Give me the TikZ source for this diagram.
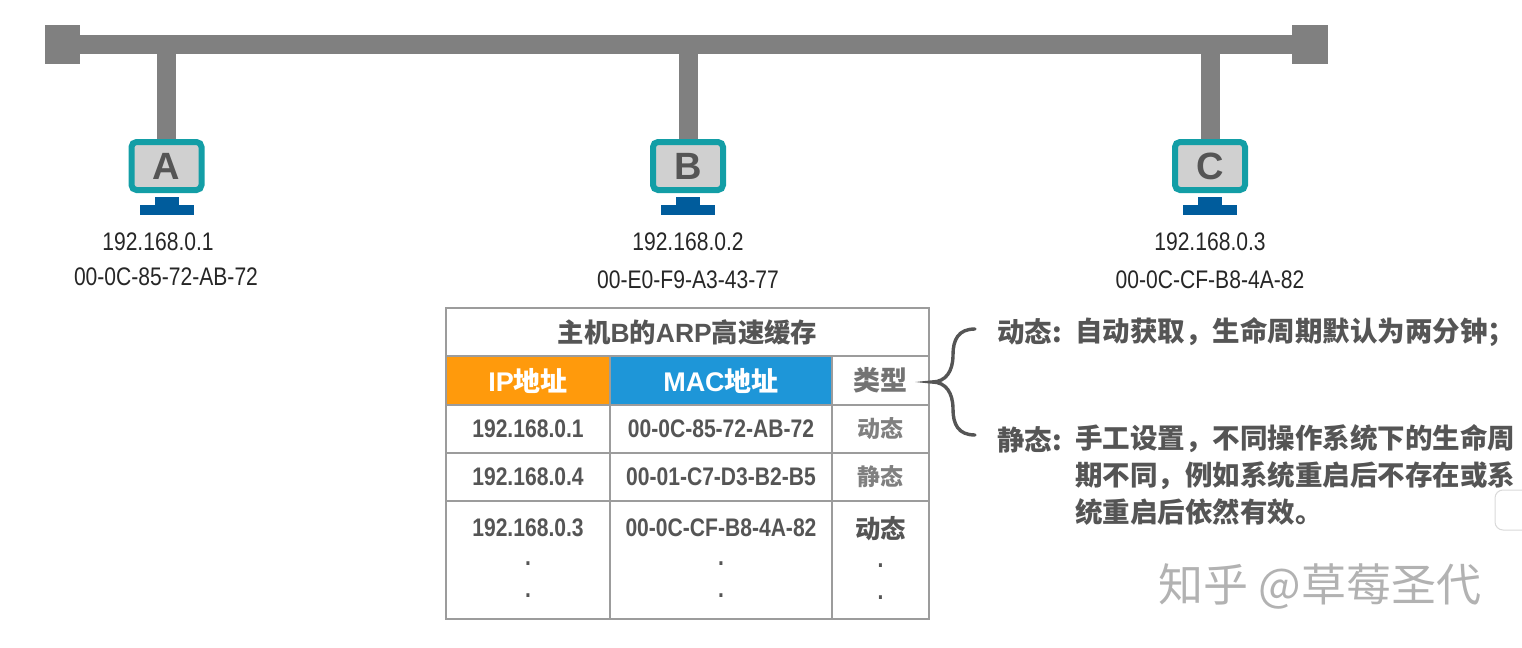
\documentclass[tikz,border=0pt]{standalone}
\usepackage{fontspec}
\usepackage{xcolor}
\usetikzlibrary{positioning}
\setmainfont{Liberation Sans}
\newfontfamily\narrowfont[FakeStretch=0.83]{Liberation Sans}
\newfontfamily\cjk{Noto Sans CJK SC}
\newcommand{\zh}[1]{{\cjk #1}}
\definecolor{busgray}{HTML}{808080}
\definecolor{screenteal}{HTML}{139EA6}
\definecolor{screengray}{HTML}{D0D0D0}
\definecolor{standblue}{HTML}{005C9C}
\definecolor{linegray}{HTML}{9C9C9C}
\definecolor{textgray}{HTML}{555555}
\definecolor{headorange}{HTML}{FF9A0C}
\definecolor{headblue}{HTML}{1E96D8}

\begin{document}
\begin{tikzpicture}[
    x=0.5pt, y=-0.5pt,
    node distance=0pt and 0pt,
    buspart/.style={rectangle, fill=busgray, inner sep=0pt, outer sep=0pt},
    stub/.style={draw=busgray, line width=9.5pt},
    monitor/.style={rectangle, draw=screenteal, fill=screengray, line width=3pt, rounded corners=2.5pt, minimum width=35pt, minimum height=24pt, inner sep=0pt, font=\fontsize{19}{19}\selectfont\bfseries, text=textgray},
    standpart/.style={rectangle, fill=standblue, inner sep=0pt, outer sep=0pt},
    hostlabel/.style={inner sep=0pt, font=\narrowfont\fontsize{12.7}{13}\selectfont, text=black!85},
    cell/.style={rectangle, draw=linegray, line width=0.9pt, inner sep=0pt, outer sep=0pt, align=center, text=textgray},
    textcell/.style={cell, font=\narrowfont\bfseries\fontsize{12.7}{13.5}\selectfont},
    typecell/.style={cell, font=\cjk\bfseries\fontsize{11.5}{12}\selectfont, text=black!50},
    headcell/.style={cell, font=\bfseries\fontsize{13.5}{13.5}\selectfont, text=white, minimum height=24.5pt},
    note/.style={inner sep=0pt, align=left, text=textgray, font=\cjk\bfseries\fontsize{13.75}{18.5}\selectfont}
]
\useasboundingbox (0,0) rectangle (1522,648);
% network
\node[buspart, minimum width=606pt, minimum height=9.5pt] (bus) at (686,44) {};
\node[buspart, minimum width=17.5pt, minimum height=19.5pt, left=of bus] (endL) {};
\node[buspart, minimum width=18pt, minimum height=19.5pt, right=of bus] (endR) {};
\node[monitor] (hostA) at (166.5,166) {A};
\node[monitor] (hostB) at (688,166) {B};
\node[monitor] (hostC) at (1210,166) {C};
\draw[stub] (hostA.north |- bus.south) -- (hostA.north);
\draw[stub] (hostB.north |- bus.south) -- (hostB.north);
\draw[stub] (hostC.north |- bus.south) -- (hostC.north);
% stands
\node[standpart, minimum width=12pt, minimum height=4pt, below=2pt of hostA] (neckA) {};
\node[standpart, minimum width=27pt, minimum height=5pt, below=of neckA] (baseA) {};
\node[standpart, minimum width=12pt, minimum height=4pt, below=2pt of hostB] (neckB) {};
\node[standpart, minimum width=27pt, minimum height=5pt, below=of neckB] (baseB) {};
\node[standpart, minimum width=12pt, minimum height=4pt, below=2pt of hostC] (neckC) {};
\node[standpart, minimum width=27pt, minimum height=5pt, below=of neckC] (baseC) {};
% addresses
\node[hostlabel] (ipA) at (158,242) {192.168.0.1};
\node[hostlabel] (macA) at (166,276.5) {00-0C-85-72-AB-72};
\node[hostlabel] (ipB) at (688,242) {192.168.0.2};
\node[hostlabel] (macB) at (688,279.5) {00-E0-F9-A3-43-77};
\node[hostlabel] (ipC) at (1210,242) {192.168.0.3};
\node[hostlabel] (macC) at (1210,279.5) {00-0C-CF-B8-4A-82};
% table
\node[cell, minimum width=241.5pt, minimum height=24pt, font=\bfseries\fontsize{13.2}{13.2}\selectfont] (title) at (687.5,332) {\zh{主机}B\zh{的}ARP\zh{高速缓存}};
\node[headcell, fill=headorange, minimum width=82pt, below=of title.south west, anchor=north west] (headIP) {IP\zh{地址}};
\node[headcell, fill=headblue, minimum width=111pt, right=of headIP] (headMAC) {MAC\zh{地址}};
\node[headcell, minimum width=48.5pt, right=of headMAC, text=black!55] (headType) {\zh{类型}};
\node[textcell, minimum width=82pt, minimum height=24pt, below=of headIP] (ipOne) {192.168.0.1};
\node[textcell, minimum width=111pt, minimum height=24pt, right=of ipOne] (macOne) {00-0C-85-72-AB-72};
\node[typecell, minimum width=48.5pt, minimum height=24pt, right=of macOne] (typeOne) {动态};
\node[textcell, minimum width=82pt, minimum height=24pt, below=of ipOne] (ipTwo) {192.168.0.4};
\node[textcell, minimum width=111pt, minimum height=24pt, right=of ipTwo] (macTwo) {00-01-C7-D3-B2-B5};
\node[typecell, minimum width=48.5pt, minimum height=24pt, right=of macTwo] (typeTwo) {静态};
\node[textcell, minimum width=82pt, minimum height=59pt, below=of ipTwo] (ipThree) {192.168.0.3\\[1pt].\\[2.5pt].\rule[-2pt]{0pt}{0pt}};
\node[textcell, minimum width=111pt, minimum height=59pt, right=of ipThree] (macThree) {00-0C-CF-B8-4A-82\\[1pt].\\[2.5pt].\rule[-2pt]{0pt}{0pt}};
\node[textcell, minimum width=48.5pt, minimum height=59pt, right=of macThree] (typeThree) {\zh{动态}\\[1pt].\\[2.5pt].\rule[-2pt]{0pt}{0pt}};
% brace and notes
\coordinate (braceTip) at (932,382);
\coordinate (braceTop) at (975,329);
\coordinate (braceBot) at (975,435);
\draw[textgray, line width=1.7pt, line cap=round] (braceTop) .. controls (958,329) and (953,340) .. (953,355) .. controls (953,371) and (946,382) .. (braceTip) .. controls (946,382) and (953,393) .. (953,409) .. controls (953,424) and (958,435) .. (braceBot);
\node[note, anchor=west] (dynName) at (997,332) {动态:};
\node[note, anchor=west] (dynText) at (1075,332) {自动获取，生命周期默认为两分钟；};
\node[note, anchor=west] (staName) at (997,440) {静态:};
\node[note, anchor=north west] (staText) at (1075,424) {手工设置，不同操作系统下的生命周\\期不同，例如系统重启后不存在或系\\统重启后依然有效。};
% popup at the edge
\draw[fill=white, fill opacity=0.8, draw=black!15, line width=0.5pt, rounded corners=4pt] (1495,490) rectangle (1540,530);
% watermark
\node[inner sep=0pt, font=\cjk\fontsize{22.5}{23}\selectfont, text=black!30] (mark) at (1320,586) {知乎 @草莓圣代};
\end{tikzpicture}
\end{document}
